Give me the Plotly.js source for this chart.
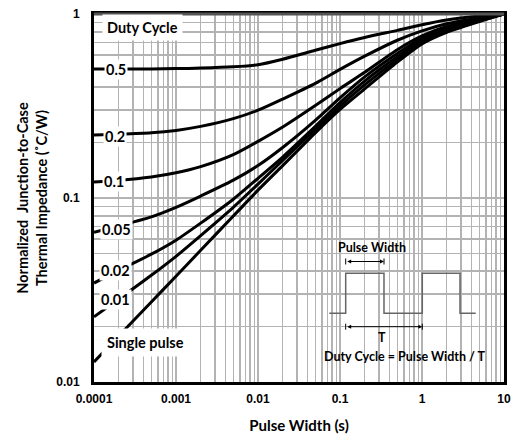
<!DOCTYPE html>
<html><head><meta charset="utf-8">
<script src="https://cdn.plot.ly/plotly-3.0.1.min.js"></script>
<style>body{margin:0;background:#fff}#chart{width:521px;height:440px}</style>
</head><body><div id="chart"></div>
<script>
// Pulse width (s)
const pulseWidth = [1e-4, 2e-4, 5e-4, 1e-3, 2e-3, 5e-3, 1e-2, 2e-2, 5e-2, 0.1, 0.2, 0.5, 1, 2, 5, 10];
// Normalized Zth for each duty cycle
const duty05  = [0.502, 0.502, 0.503, 0.505, 0.508, 0.516, 0.530, 0.568, 0.635, 0.690, 0.745, 0.815, 0.875, 0.928, 0.975, 1.0];
const duty02  = [0.220, 0.222, 0.226, 0.233, 0.245, 0.270, 0.300, 0.345, 0.420, 0.500, 0.590, 0.720, 0.810, 0.885, 0.955, 1.0];
const duty01  = [0.122, 0.1245, 0.130, 0.137, 0.148, 0.172, 0.203, 0.243, 0.318, 0.393, 0.482, 0.640, 0.760, 0.855, 0.940, 1.0];
const duty005 = [0.0650, 0.0705, 0.0790, 0.0890, 0.1025, 0.125, 0.150, 0.188, 0.264, 0.350, 0.455, 0.610, 0.740, 0.840, 0.930, 1.0];
const duty002 = [0.0345, 0.0404, 0.0495, 0.0590, 0.0730, 0.0985, 0.128, 0.167, 0.245, 0.330, 0.432, 0.585, 0.720, 0.820, 0.920, 1.0];
const duty001 = [0.0226, 0.0282, 0.0380, 0.0482, 0.0625, 0.0890, 0.119, 0.160, 0.236, 0.316, 0.412, 0.565, 0.705, 0.810, 0.915, 1.0];
const single  = [0.01284, 0.0178, 0.0272, 0.0376, 0.0520, 0.0798, 0.1103, 0.150, 0.226, 0.303, 0.392, 0.548, 0.688, 0.795, 0.910, 1.0];
const seriesNames = ['0.5', '0.2', '0.1', '0.05', '0.02', '0.01', 'Single pulse'];
const seriesValues = [duty05, duty02, duty01, duty005, duty002, duty001, single];
const xTickVals = [1e-4, 1e-3, 1e-2, 1e-1, 1, 10];
const xTickText = ['0.0001', '0.001', '0.01', '0.1', '1', '10'];
const yTickVals = [0.01, 0.1, 1];
const yTickText = ['0.01', '0.1', '1'];

const traces = seriesValues.map((v, i) => ({
  x: pulseWidth, y: v, name: seriesNames[i], type: 'scatter', mode: 'lines',
  line: {color: '#000', width: 3, shape: 'spline', smoothing: 0.7},
  hoverinfo: 'x+y+name'
}));

const lblFont = {family: 'Lato, "Noto Sans", sans-serif', size: 14.5, color: '#000', weight: 700};
const L = 94, R = 504, T = 14, B = 382;
const px = v => (v - L) / (R - L);
const py = v => (B - v) / (B - T);

function lab(text, cx, cy, pad) {
  return {text: text, xref: 'paper', yref: 'paper', x: px(cx), y: py(cy), showarrow: false,
    font: lblFont, bgcolor: '#fff', borderpad: pad === undefined ? 1 : pad, xanchor: 'center', yanchor: 'middle'};
}

const smallFont = {family: 'Lato, sans-serif', size: 12.5, color: '#000', weight: 700};
const annotations = [
  lab('Duty Cycle', 142, 28, 4),
  lab('0.5', 116, 69),
  lab('0.2', 115, 136),
  lab('0.1', 114, 181),
  lab('0.05', 116.5, 229),
  lab('0.02', 115, 270),
  lab('0.01', 115, 299),
  lab('Single pulse', 145, 342, 5),
  {text: 'Pulse Width', xref: 'paper', yref: 'paper', x: px(371.7), y: py(247), showarrow: false,
   font: smallFont, xanchor: 'center', yanchor: 'middle'},
  {text: 'T', xref: 'paper', yref: 'paper', x: px(382), y: py(337), showarrow: false,
   font: smallFont, xanchor: 'center', yanchor: 'middle'},
  {text: 'Duty Cycle = Pulse Width / T', xref: 'paper', yref: 'paper', x: px(405), y: py(356), showarrow: false,
   font: smallFont, xanchor: 'center', yanchor: 'middle'},
  {text: '', xref: 'paper', yref: 'paper', x: px(384), y: py(261.5), ax: -(384 - 345.7), ay: 0,
   showarrow: true, arrowhead: 2, startarrowhead: 2, arrowside: 'end+start', arrowsize: 0.8, arrowwidth: 1, arrowcolor: '#000',
   standoff: 0, startstandoff: 0},
  {text: '', xref: 'paper', yref: 'paper', x: px(422.3), y: py(326.7), ax: -(422.3 - 345.7), ay: 0,
   showarrow: true, arrowhead: 2, startarrowhead: 2, arrowside: 'end+start', arrowsize: 0.8, arrowwidth: 1, arrowcolor: '#000',
   standoff: 0, startstandoff: 0}
];

const wave = [[329.3, 313.3], [345.7, 313.3], [345.7, 273.3], [384, 273.3], [384, 313.3], [422.3, 313.3],
              [422.3, 273.3], [460, 273.3], [460, 313.3], [475.7, 313.3]];
const wavePath = wave.map((p, i) => (i ? 'L' : 'M') + px(p[0]).toFixed(4) + ',' + py(p[1]).toFixed(4)).join(' ');

function vbar(cx, cy) {
  return {type: 'line', xref: 'paper', yref: 'paper', x0: px(cx), x1: px(cx), y0: py(cy - 3), y1: py(cy + 3),
    line: {color: '#000', width: 1}};
}

const shapes = [
  {type: 'rect', xref: 'paper', yref: 'paper', x0: px(315), x1: px(502), y0: py(373), y1: py(229),
   fillcolor: '#fff', line: {width: 0}, layer: 'below'},
  {type: 'path', xref: 'paper', yref: 'paper', path: wavePath, line: {color: '#666', width: 1.5}},
  vbar(345.7, 261.5), vbar(384, 261.5), vbar(345.7, 326.7), vbar(422.3, 326.7),
  {type: 'line', xref: 'paper', yref: 'paper', x0: 0, x1: 1, y0: 1, y1: 1, line: {color: '#555', width: 3}}
];

const gridCol = '#b3b3b3';
const layout = {
  width: 521, height: 440,
  margin: {l: L, r: 521 - R, t: T, b: 440 - B},
  paper_bgcolor: '#fff', plot_bgcolor: '#fff',
  showlegend: false,
  xaxis: {
    type: 'log', range: [-4, 1], tickmode: 'array', tickvals: xTickVals, ticktext: xTickText,
    showgrid: true, gridcolor: gridCol, gridwidth: 1.5,
    minor: {dtick: 'D1', showgrid: true, gridcolor: gridCol, gridwidth: 1.5, ticks: ''},
    showline: true, linecolor: '#000', linewidth: 3, mirror: true, ticks: '', zeroline: false,
    ticklabelstandoff: 4,
    tickfont: {family: '"Liberation Sans", Arial, sans-serif', size: 12, color: '#000', weight: 700},
    title: {text: 'Pulse Width (s)', font: {family: 'Lato, sans-serif', size: 15, color: '#000', weight: 700}, standoff: 16}
  },
  yaxis: {
    type: 'log', range: [-2, 0], tickmode: 'array', tickvals: yTickVals, ticktext: yTickText,
    showgrid: true, gridcolor: gridCol, gridwidth: 1.5,
    minor: {dtick: 'D1', showgrid: true, gridcolor: gridCol, gridwidth: 1.5, ticks: ''},
    showline: true, linecolor: '#000', linewidth: 3, mirror: true, ticks: '', zeroline: false,
    ticklabelstandoff: 9,
    tickfont: {family: '"Liberation Sans", Arial, sans-serif', size: 12, color: '#000', weight: 700},
    title: {text: 'Normalized  Junction-to-Case<br>Thermal Impedance (˚C/W)',
            font: {family: 'Lato, sans-serif', size: 14.5, color: '#000', weight: 700}, standoff: 6}
  },
  annotations: annotations,
  shapes: shapes
};

Plotly.newPlot('chart', traces, layout, {displayModeBar: false, staticPlot: true});
</script>
</body></html>
